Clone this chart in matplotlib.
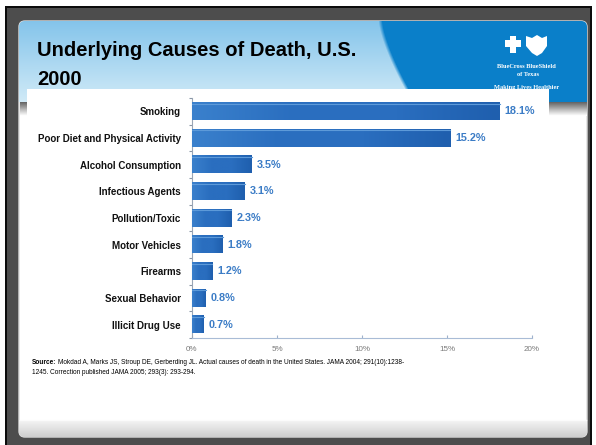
import numpy as np
import matplotlib.pyplot as plt
from matplotlib.patches import FancyBboxPatch, Rectangle, Polygon
from matplotlib.colors import LinearSegmentedColormap

plt.rcParams['font.family'] = ['Liberation Sans', 'DejaVu Sans']

causes = ["Smoking", "Poor Diet and Physical Activity", "Alcohol Consumption",
          "Infectious Agents", "Pollution/Toxic", "Motor Vehicles", "Firearms",
          "Sexual Behavior", "Illicit Drug Use"]
percent = [18.1, 15.2, 3.5, 3.1, 2.3, 1.8, 1.2, 0.8, 0.7]
x_ticks = [0, 5, 10, 15, 20]
x_tick_labels = ["0%", "5%", "10%", "15%", "20%"]

title_lines = ["Underlying Causes of Death, U.S.", "2000"]
source_head = "Source:"
source_body = ("Mokdad A, Marks JS, Stroup DE, Gerberding JL. Actual causes of death in the "
               "United States. JAMA 2004; 291(10):1238-")
source_tail = "1245. Correction published JAMA 2005; 293(3): 293-294."

W, H = 596, 445
fig = plt.figure(figsize=(W / 100, H / 100), dpi=100, facecolor='white')

# ---- slide background drawn in pixel coordinates ----
bg = fig.add_axes([0, 0, 1, 1])
bg.set_xlim(0, W)
bg.set_ylim(H, 0)
bg.axis('off')

bg.add_patch(Rectangle((5, 6), 587, H - 6, facecolor='#0c0c0c', edgecolor='none'))
bg.add_patch(Rectangle((7, 8), 583, H - 8, facecolor='#4d4d4d', edgecolor='none'))

slide = FancyBboxPatch((19, 21), 568, 416, boxstyle='round,pad=0,rounding_size=6',
                       facecolor='white', edgecolor='#dcdcdc', lw=1.0)
bg.add_patch(slide)

# header gradient: light sky blue on the left, deep blue swoosh on the right
hx0, hx1, hy0, hy1 = 19, 587, 21, 102
nx, ny = hx1 - hx0, hy1 - hy0
xx, yy = np.meshgrid(np.arange(nx) + hx0, np.arange(ny) + hy0)
t = (yy - hy0) / ny
light_top = np.array([0.52, 0.77, 0.92])
light_bot = np.array([0.82, 0.92, 0.97])
light = light_top[None, None, :] * (1 - t[..., None]) + light_bot[None, None, :] * t[..., None]
dark = np.array([0.04, 0.50, 0.79])
boundary = 378 + 34 * t ** 1.4
w = np.clip((xx - boundary) / 4.0, 0, 1)[..., None]
head_img = light * (1 - w) + dark[None, None, :] * w
im = bg.imshow(head_img, extent=[hx0, hx1, hy1, hy0], aspect='auto', zorder=2,
               interpolation='bilinear')
im.set_clip_path(slide)

# dark rule and soft shadow beneath the header
shade = np.linspace(0, 1, 16)[:, None]
shadow_cmap = LinearSegmentedColormap.from_list('sh', ['#666666', '#b4b4b4', '#ffffff'])
bg.imshow(np.repeat(shade, 10, axis=1), cmap=shadow_cmap, extent=[19.5, 586.5, 116, 102],
          aspect='auto', zorder=2, interpolation='bilinear')

# footer bar
foot = np.linspace(0, 1, 17)[:, None]
foot_cmap = LinearSegmentedColormap.from_list('ft', ['#f4f4f4', '#e2e2e2', '#cfcfcf'])
fim = bg.imshow(np.repeat(foot, 10, axis=1), cmap=foot_cmap, extent=[19, 587, 437, 420],
                aspect='auto', zorder=2, interpolation='bilinear')
fim.set_clip_path(slide)
bg.plot([20, 586], [420, 420], color='#fbfbfb', lw=1, zorder=3)

# logo: cross and shield with the company lines
bg.add_patch(Polygon([(510, 36), (516, 36), (516, 40), (521, 40), (521, 47), (516, 47),
                      (516, 53), (510, 53), (510, 47), (505, 47), (505, 40), (510, 40)],
                     closed=True, facecolor='white', edgecolor='none', zorder=4))
bg.add_patch(Polygon([(526, 36), (532, 38), (537, 35), (542, 38), (547, 36), (547, 46),
                      (542, 53), (537, 56), (532, 53), (526, 46)],
                     closed=True, facecolor='white', edgecolor='none', zorder=4))
bg.text(526, 66, "BlueCross BlueShield", color='white', fontsize=4.6, fontweight='bold',
        ha='center', va='center', family='Liberation Serif', zorder=4)
bg.text(528, 75, "of Texas", color='white', fontsize=4.6, fontweight='bold',
        ha='center', va='center', family='Liberation Serif', zorder=4)
bg.text(527, 87, "Making Lives Healthier", color='white', fontsize=4.6, fontweight='bold',
        ha='center', va='center', family='Liberation Serif', zorder=4)

# title
bg.text(37, 56, title_lines[0], fontsize=14.5, fontweight='bold', color='black',
        va='baseline', ha='left', zorder=4)
bg.text(37, 85, title_lines[1], fontsize=14.5, fontweight='bold', color='black',
        va='baseline', ha='left', zorder=4)

# white panel carrying the bar chart
bg.add_patch(Rectangle((27, 89), 522, 290, facecolor='white', edgecolor='none', zorder=5))

# source note
bg.text(32, 364, source_head, fontsize=4.7, fontweight='bold', va='baseline', zorder=6)
bg.text(57.5, 364, source_body, fontsize=4.7, va='baseline', zorder=6)
bg.text(32, 373.5, source_tail, fontsize=4.7, va='baseline', zorder=6)

# ---- bar chart ----
ax = fig.add_axes([192 / W, 1 - 338 / H, 340 / W, 240 / H], zorder=10)
ax.patch.set_alpha(0)
ypos = np.arange(len(causes))
bar_h = 0.64
ax.barh(ypos, percent, height=bar_h, color='#2a6ebf', edgecolor='none', zorder=2)

bar_cmap = LinearSegmentedColormap.from_list('bar', ['#3a80cc', '#2a6ebf', '#2a6ebf', '#1f5fae'])
grad = np.linspace(0, 1, 64)[None, :]
for yv, v in zip(ypos, percent):
    ax.imshow(grad, cmap=bar_cmap, extent=[0, v, yv + bar_h / 2, yv - bar_h / 2],
              aspect='auto', zorder=3, interpolation='bilinear')
    ax.plot([0, v], [yv - bar_h / 2 + 0.03] * 2, color='#5d9ad9', lw=0.8, zorder=4)
    ax.text(v + 0.3, yv, f"{v}%", va='center', ha='left', color='#3b7cc6',
            fontweight='bold', fontsize=7.8, zorder=4)

ax.set_xlim(0, 20)
ax.set_ylim(len(causes) - 0.5, -0.5)
ax.set_yticks(ypos)
ax.set_yticklabels(causes, fontweight='bold', fontsize=7.0, color='#111111')
ax.set_yticks(np.arange(len(causes) + 1) - 0.5, minor=True)
ax.tick_params(axis='y', which='major', length=0, pad=8)
ax.tick_params(axis='y', which='minor', length=2.5, color='#8a96a6', width=0.8)
ax.set_xticks(x_ticks)
ax.set_xticklabels(x_tick_labels, fontsize=5.8, color='#7a7a7a')
ax.tick_params(axis='x', direction='in', length=2.5, color='#9fb2cc', pad=6)
for s in ['top', 'right']:
    ax.spines[s].set_visible(False)
ax.spines['left'].set_color('#9aa6b6')
ax.spines['bottom'].set_color('#a9bcd6')
ax.spines['left'].set_linewidth(0.8)
ax.spines['bottom'].set_linewidth(0.8)

fig.savefig('out.png', dpi=100, facecolor='white')
